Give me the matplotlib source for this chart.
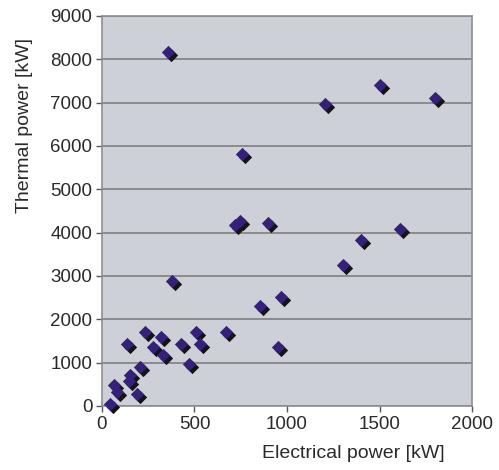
import matplotlib
matplotlib.use('Agg')
import matplotlib.pyplot as plt
import matplotlib.transforms as mtransforms

plt.rcParams['font.family'] = ['Liberation Sans', 'DejaVu Sans']

# electrical power [kW] vs thermal power [kW]
elec_kw = [45, 65, 80, 135, 150, 145, 190, 205, 230, 275, 320, 330, 378,
           425, 470, 510, 530, 670, 355, 720, 745, 755, 900, 855, 965, 950,
           1300, 1400, 1610, 1205, 1500, 1800]
therm_kw = [40, 490, 320, 1420, 720, 570, 270, 900, 1710, 1370, 1590, 1180,
            2890, 1420, 970, 1710, 1420, 1710, 8160, 4180, 4270, 5820, 4230,
            2300, 2510, 1360, 3260, 3840, 4090, 6970, 7400, 7110]

x_ticks = [0, 500, 1000, 1500, 2000]
y_ticks = list(range(0, 9001, 1000))

fig = plt.figure(figsize=(4.99, 4.70), dpi=100)
ax = fig.add_axes([0.2044, 0.1362, 0.7415, 0.8298])
ax.set_facecolor('#cdd0d6')

# dark drop shadow, then the blue diamonds on top
shadow = mtransforms.offset_copy(ax.transData, fig=fig, x=3, y=-3, units='dots')
ax.scatter(elec_kw, therm_kw, marker='D', s=46, color='#141414',
           linewidths=0, transform=shadow, zorder=3, clip_on=False)
ax.scatter(elec_kw, therm_kw, marker='D', s=46, color='#35217a',
           linewidths=0, zorder=4, clip_on=False)

ax.set_xlim(0, 2000)
ax.set_ylim(0, 9000)
ax.set_xticks(x_ticks)
ax.set_yticks(y_ticks)
ax.yaxis.grid(True, color='#7d7f82', linewidth=1.2)
ax.set_axisbelow(True)

for s in ax.spines.values():
    s.set_color('#8c8e92')
    s.set_linewidth(1.2)

ax.tick_params(axis='both', direction='out', length=4, width=1,
               color='#555555', labelsize=13.5, labelcolor='#2a2a2a', pad=3)

ax.set_xlabel('Electrical power [kW]', fontsize=14, color='#2a2a2a')
ax.set_ylabel('Thermal power [kW]', fontsize=14, color='#2a2a2a')
ax.xaxis.set_label_coords(0.678, -0.1)
ax.yaxis.set_label_coords(-0.186, 0.72)

fig.savefig('out.png', dpi=100)
